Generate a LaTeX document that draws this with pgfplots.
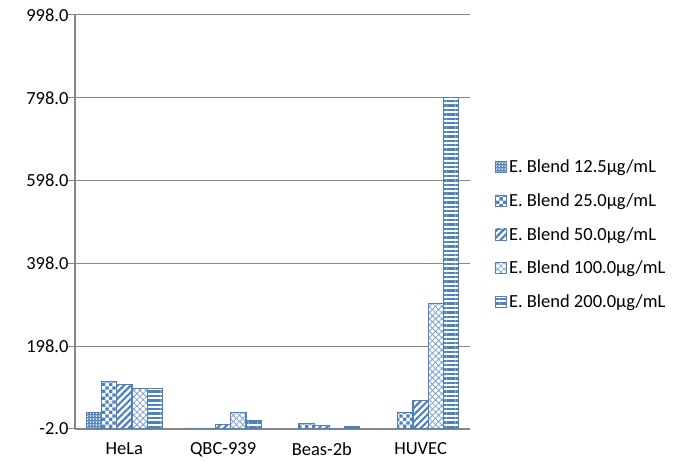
\documentclass[border=0pt]{standalone}
\usepackage{fontspec}
\setmainfont{Carlito}
\usepackage{pgfplots}
\pgfplotsset{compat=1.18}
\usetikzlibrary{patterns.meta}

\definecolor{xlblue}{HTML}{4F81BD}
\definecolor{xllight}{HTML}{7EA1D0}
\definecolor{xlgrid}{HTML}{868686}

% dense blue with small white holes
\tikzdeclarepattern{
  name=bluedots, type=colored,
  bottom left={(0pt,0pt)}, top right={(3.2pt,3.2pt)}, tile size={(3.2pt,3.2pt)},
  code={
    \fill[xlblue] (0pt,0pt) rectangle (3.2pt,3.2pt);
    \fill[white] (1pt,1pt) rectangle (2.2pt,2.2pt);
  }
}
% checkerboard
\tikzdeclarepattern{
  name=bluechecker, type=colored,
  bottom left={(0pt,0pt)}, top right={(6.8pt,6.8pt)}, tile size={(6.8pt,6.8pt)},
  code={
    \fill[white] (0pt,0pt) rectangle (6.8pt,6.8pt);
    \fill[xlblue] (0pt,0pt) rectangle (3.4pt,3.4pt);
    \fill[xlblue] (3.4pt,3.4pt) rectangle (6.8pt,6.8pt);
  }
}

\newcommand{\lgsize}{\fontsize{18.5}{21}\selectfont}

\begin{document}
\begin{tikzpicture}
\path[use as bounding box] (-75pt,-33pt) rectangle (609pt,429pt);
\begin{axis}[
  scale only axis,
  width=395pt, height=414pt,
  xmin=-0.5, xmax=3.5,
  ymin=-2, ymax=998,
  axis x line=bottom, axis y line=left,
  axis line style={xlgrid, line width=1.2pt, -},
  ytick={-2,198,398,598,798,998},
  yticklabel style={
    /pgf/number format/fixed,
    /pgf/number format/fixed zerofill,
    /pgf/number format/precision=1,
    xshift=4pt},
  /pgf/number format/assume math mode=true,
  ymajorgrids,
  grid style={xlgrid, line width=1pt},
  tick align=outside,
  ytick style={xlgrid, line width=1pt},
  major tick length=7pt,
  xtick={0,1,2,3},
  xticklabels={HeLa, QBC-939, Beas-2b, HUVEC},
  xtick style={draw=none},
  extra x ticks={-0.5,0.5,1.5,2.5,3.5},
  extra x tick labels={},
  extra x tick style={tick style={draw=xlgrid, line width=1pt}, major tick length=5pt},
  tick label style={font=\lgsize, text=black},
  xticklabel style={yshift=-5pt, inner sep=1pt},
  ybar=0pt,
  bar width=15.2pt,
  every axis plot/.append style={draw=xlblue, line width=1.2pt, fill=white},
  legend style={
    at={(1.0,0.47)}, anchor=west, xshift=22pt,
    draw=none, fill=none, font=\lgsize,
    row sep=15.5pt,
    legend cell align=left,
  },
  legend image code/.code={
    \draw[#1, line width=0.8pt] (0pt,-5.5pt) rectangle (11pt,5.5pt);
  },
]

\addplot[postaction={pattern={bluedots}}] coordinates {
  (0,37) (1,0)
};
\addlegendentry{E. Blend 12.5µg/mL}

\addplot[postaction={pattern={bluechecker}}] coordinates {
  (0,112) (1,0) (2,11) (3,38)
};
\addlegendentry{E. Blend 25.0µg/mL}

\addplot[postaction={pattern={Lines[angle=45,distance=4.8pt,line width=2.2pt]}, pattern color=xlblue}] coordinates {
  (0,106) (1,9) (2,6) (3,67)
};
\addlegendentry{E. Blend 50.0µg/mL}

\addplot[postaction={pattern={Hatch[angle=45,distance=4.4pt,line width=0.8pt]}, pattern color=xllight}] coordinates {
  (0,95) (1,38) (2,0) (3,301)
};
\addlegendentry{E. Blend 100.0µg/mL}

\addplot[postaction={pattern={Lines[angle=0,distance=4.4pt,line width=2.4pt]}, pattern color=xlblue}] coordinates {
  (0,95) (1,18) (2,3) (3,798)
};
\addlegendentry{E. Blend 200.0µg/mL}

\end{axis}
\end{tikzpicture}
\end{document}
